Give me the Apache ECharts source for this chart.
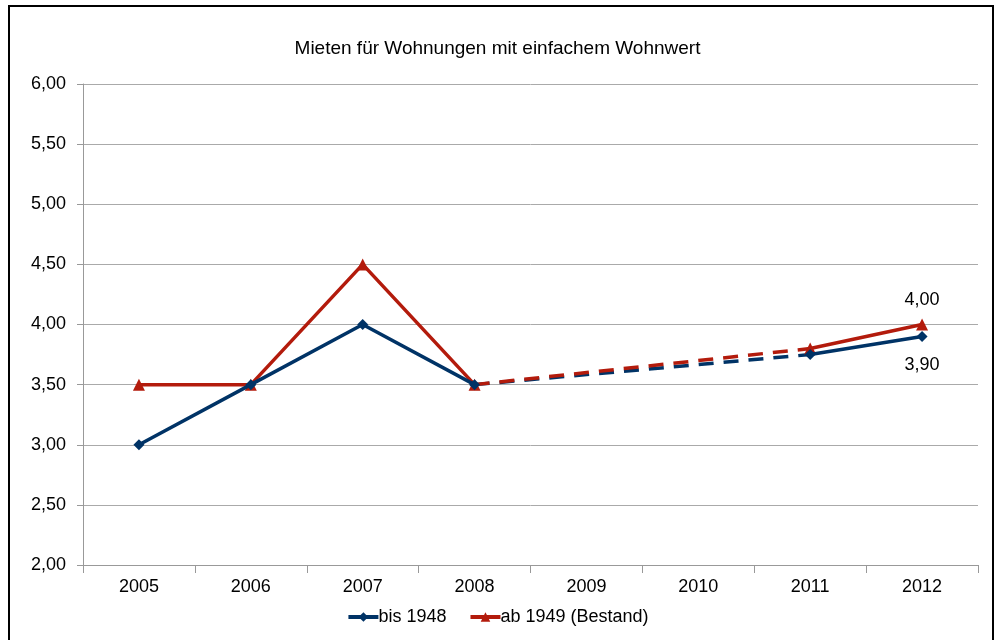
<!DOCTYPE html>
<html lang="de">
<head>
  <meta charset="UTF-8">
  <title>Mieten für Wohnungen mit einfachem Wohnwert</title>
  <script src="https://cdn.jsdelivr.net/npm/echarts@6/dist/echarts.min.js"></script>
  <style>
    html, body { margin: 0; padding: 0; background: #fff; }
    #chart { width: 995px; height: 640px; }
  </style>
</head>
<body>
  <div id="chart"></div>
  <script>
    // Daten
    const years = ['2005', '2006', '2007', '2008', '2009', '2010', '2011', '2012'];
    const bis1948 = [3.00, 3.50, 4.00, 3.50, null, null, 3.75, 3.90];
    const ab1949 = [3.50, 3.50, 4.50, 3.50, null, null, 3.80, 4.00];
    const yTicks = [2.0, 2.5, 3.0, 3.5, 4.0, 4.5, 5.0, 5.5, 6.0];

    const navy = '#003366';
    const red = '#b31b0c';
    const font = '"Liberation Sans", Arial, sans-serif';

    const fmt = v => v.toFixed(2).replace('.', ',');

    // gestrichelter Abschnitt 2008 -> 2011
    function dashedPart(values) {
      return values.map((v, i) => (i === 3 || i === 6) ? v : null);
    }

    // letzter Punkt mit Wertbeschriftung
    function withLastLabel(values, pos, dist) {
      return values.map((v, i) => i === values.length - 1
        ? { value: v, label: { show: true, position: pos, distance: dist, formatter: p => fmt(p.value), color: '#000', fontSize: 18, fontFamily: font } }
        : v);
    }

    const chart = echarts.init(document.getElementById('chart'));

    chart.setOption({
      animation: false,
      title: {
        text: 'Mieten für Wohnungen mit einfachem Wohnwert',
        left: 'center',
        top: 34,
        textStyle: { fontFamily: font, fontSize: 19, fontWeight: 'normal', color: '#000' }
      },
      legend: {
        data: [
          { name: 'bis 1948', lineStyle: { width: 4 } },
          { name: 'ab 1949 (Bestand)', lineStyle: { width: 4 } }
        ],
        bottom: 9,
        left: 'center',
        itemWidth: 30,
        itemHeight: 12,
        itemGap: 22,
        textStyle: { fontFamily: font, fontSize: 18, color: '#000', padding: [0, 0, 0, -5] }
      },
      graphic: [{
        type: 'rect',
        shape: { x: 9, y: 6, width: 984, height: 640 },
        style: { fill: 'none', stroke: '#000', lineWidth: 2 },
        silent: true
      }],
      grid: { left: 83, right: 17, top: 84, bottom: 75 },
      xAxis: {
        type: 'category',
        data: years,
        boundaryGap: true,
        axisLine: { lineStyle: { color: '#999' } },
        axisTick: { show: true, length: 8, lineStyle: { color: '#999' } },
        axisLabel: { fontFamily: font, fontSize: 18, color: '#000', margin: 13 }
      },
      yAxis: {
        type: 'value',
        min: yTicks[0],
        max: yTicks[yTicks.length - 1],
        interval: 0.5,
        axisLine: { show: true, lineStyle: { color: '#999' } },
        axisTick: { show: true, length: 6, lineStyle: { color: '#999' } },
        splitLine: { lineStyle: { color: '#aaa', width: 1 } },
        axisLabel: { fontFamily: font, fontSize: 18, color: '#000', margin: 17, formatter: v => fmt(v) }
      },
      series: [
        {
          name: 'bis 1948',
          type: 'line',
          data: withLastLabel(bis1948, 'bottom', 14),
          connectNulls: false,
          symbol: 'diamond',
          symbolSize: 11,
          itemStyle: { color: navy },
          lineStyle: { color: navy, width: 3.5 },
          z: 3
        },
        {
          name: 'ab 1949 (Bestand)',
          type: 'line',
          data: withLastLabel(ab1949, 'top', 9),
          connectNulls: false,
          symbol: 'triangle',
          symbolSize: 12,
          itemStyle: { color: red },
          lineStyle: { color: red, width: 3.5 },
          z: 2
        },
        {
          name: 'bis 1948 Schätzung',
          type: 'line',
          data: dashedPart(bis1948),
          connectNulls: true,
          showSymbol: false,
          lineStyle: { color: navy, width: 3.5, type: [15, 10] },
          z: 1
        },
        {
          name: 'ab 1949 Schätzung',
          type: 'line',
          data: dashedPart(ab1949),
          connectNulls: true,
          showSymbol: false,
          lineStyle: { color: red, width: 3.5, type: [15, 10] },
          z: 1
        }
      ]
    });
  </script>
</body>
</html>
